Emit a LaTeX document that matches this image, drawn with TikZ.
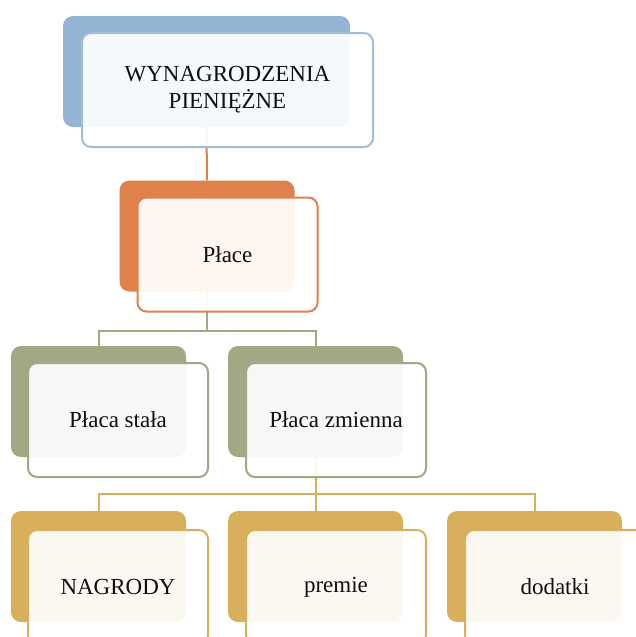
\documentclass[tikz,border=0pt]{standalone}
\usepackage{fontspec}
\setmainfont{Liberation Serif}
\definecolor{cblue}{RGB}{148,180,211}
\definecolor{cblueline}{RGB}{160,190,218}
\definecolor{corange}{RGB}{224,128,74}
\definecolor{cgreen}{RGB}{162,168,132}
\definecolor{cgold}{RGB}{216,176,92}
\definecolor{ctext}{RGB}{15,15,15}
\tikzset{
  backbox/.style={rounded corners=10pt, minimum width=175pt, minimum height=111pt, inner sep=0pt},
  frontbox/.style={rounded corners=9pt, line width=2pt, fill=white, fill opacity=0.92,
    text opacity=1, minimum width=180pt, minimum height=114pt, inner sep=0pt,
    font=\fontsize{23}{27}\selectfont, text=ctext},
  link/.style={line width=2pt},
}
\begin{document}
\begin{tikzpicture}[x=1pt,y=-1pt]
\useasboundingbox (0,0) rectangle (636,637);
\clip (0,0) rectangle (636,637);
% shaded back panels
\node[backbox, fill=cblue, minimum width=287pt] (topb) at (206.5,71.5) {};
\node[backbox, fill=corange] (plb) at (207,236) {};
\node[backbox, fill=cgreen] (stb) at (98.5,401.5) {};
\node[backbox, fill=cgreen] (zmb) at (315.5,401.5) {};
\node[backbox, fill=cgold] (nab) at (98.5,566.5) {};
\node[backbox, fill=cgold] (prb) at (315.5,566.5) {};
\node[backbox, fill=cgold] (dob) at (534.5,566.5) {};
% tree connectors
\draw[link, corange] (topb.south) -- (plb.north);
\draw[link, cgreen] (plb.south) -- ++(0,39) coordinate (j1) -| (stb.north);
\draw[link, cgreen] (j1) -| (zmb.north);
\draw[link, cgold] (zmb.south) -- ++(0,37) coordinate (j2) -| (nab.north);
\draw[link, cgold] (j2) -| (dob.north);
\draw[link, cgold] (j2) -- (prb.north);
% translucent front cards with labels
\node[frontbox, draw=cblueline, minimum width=291pt, align=center] (topf) at (227.5,90) {WYNAGRODZENIA\\PIENIĘŻNE};
\node[frontbox, draw=corange] (plf) at (227.5,254.5) {Płace};
\node[frontbox, draw=cgreen] (stf) at (118,420) {Płaca stała};
\node[frontbox, draw=cgreen] (zmf) at (336,420) {Płaca zmienna};
\node[frontbox, draw=cgold] (naf) at (118,587) {NAGRODY};
\node[frontbox, draw=cgold] (prf) at (336,587) {premie};
\node[frontbox, draw=cgold] (dof) at (555,587) {dodatki};
\end{tikzpicture}
\end{document}
